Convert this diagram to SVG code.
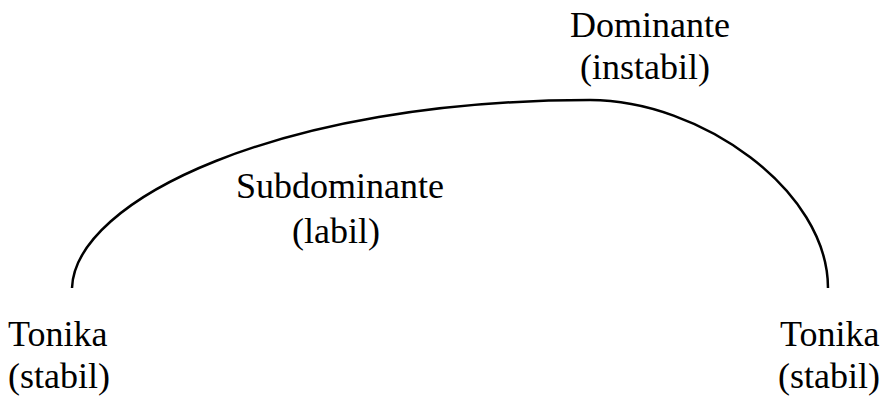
<svg xmlns="http://www.w3.org/2000/svg" width="889" height="401" viewBox="0 0 889 401">
  <style>
    .lbl { font-size: 36px; fill: #000; }
    .arc { fill: none; stroke: #000; stroke-width: 2.5; }
  </style>
  <rect width="889" height="401" fill="#fff"/>
  <g id="connectors">
    <path class="arc" d="M 72 288 C 75 200, 280 100, 590 100 C 700 100, 828 190, 828 288"/>
  </g>
  <g id="labels" font-family="Liberation Serif, serif">
    <g id="tonika-start">
      <text class="lbl" x="8" y="346">Tonika</text>
      <text class="lbl" x="8" y="388">(stabil)</text>
    </g>
    <g id="subdominante">
      <text class="lbl" x="340" y="198" text-anchor="middle">Subdominante</text>
      <text class="lbl" x="336" y="243" text-anchor="middle">(labil)</text>
    </g>
    <g id="dominante">
      <text class="lbl" x="650" y="37" text-anchor="middle">Dominante</text>
      <text class="lbl" x="645" y="79" text-anchor="middle">(instabil)</text>
    </g>
    <g id="tonika-end">
      <text class="lbl" x="780" y="346">Tonika</text>
      <text class="lbl" x="778" y="388">(stabil)</text>
    </g>
  </g>
</svg>
